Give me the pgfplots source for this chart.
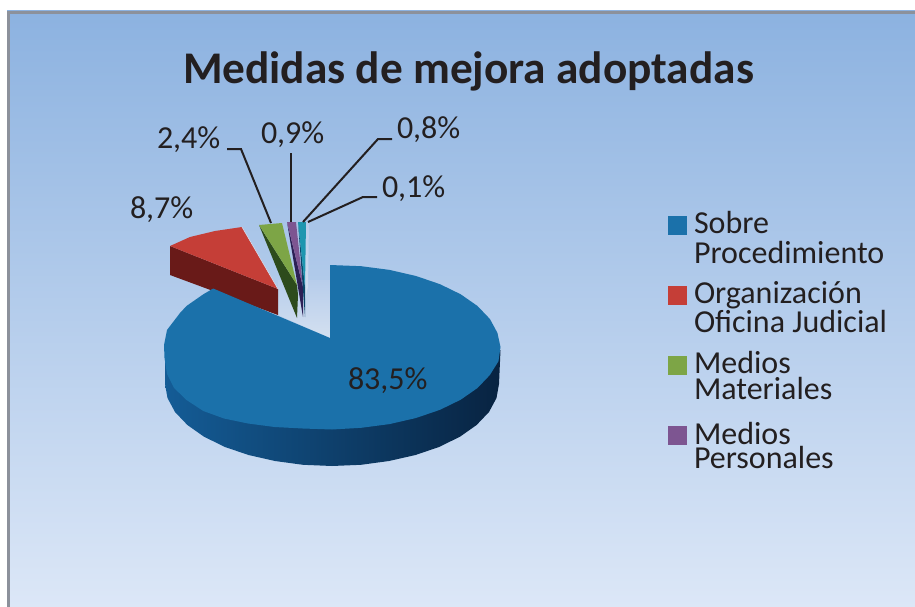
\documentclass[border=0pt]{standalone}
\usepackage{pgfplots}
\pgfplotsset{compat=1.18}
\usepackage{fontspec}
\setmainfont{Carlito}
\definecolor{txt}{RGB}{35,31,32}
\definecolor{bluetop}{RGB}{27,113,170}
\definecolor{blueL}{RGB}{20,92,150}
\definecolor{blueM}{RGB}{13,58,105}
\definecolor{blueR}{RGB}{8,35,65}
\definecolor{redtop}{RGB}{197,62,55}
\definecolor{redside}{RGB}{105,26,24}
\definecolor{greentop}{RGB}{125,165,70}
\definecolor{greenside}{RGB}{45,75,28}
\definecolor{purptop}{RGB}{125,85,145}
\definecolor{purpside}{RGB}{45,32,85}
\definecolor{tealtop}{RGB}{30,150,175}
\definecolor{tealside}{RGB}{10,70,105}
\definecolor{pale}{RGB}{212,224,240}
\definecolor{palebg}{RGB}{183,205,235}
\definecolor{bgtop}{RGB}{140,178,224}
\definecolor{bgbot}{RGB}{220,231,247}
\definecolor{frame}{RGB}{140,145,155}
\tikzset{lbl/.style={inner sep=0pt,outer sep=0pt,anchor=base west,text=txt,font=\fontsize{32}{33}\selectfont},
 leg/.style={inner sep=0pt,outer sep=0pt,anchor=base west,text=txt,font=\fontsize{32}{33}\selectfont}}
\begin{document}
\begin{tikzpicture}
\begin{axis}[
  width=915pt,height=607pt,scale only axis,
  xmin=0,xmax=915,ymin=0,ymax=607,y dir=reverse,
  hide axis,clip=true,
]
% page + panel
\addplot[draw=none,fill=white,forget plot] coordinates {(0,0)(915,0)(915,607)(0,607)} --cycle;
\addplot[draw=none,top color=bgtop,bottom color=bgbot,forget plot] coordinates {(7,11)(915,11)(915,607)(7,607)} --cycle;
\addplot[draw=frame,line width=3pt,forget plot] coordinates {(8.5,607)(8.5,12.5)(915,12.5)};
% pale wedge
\addplot[draw=none,top color=palebg,bottom color=pale,forget plot] coordinates {(278,280)(278,315)(330,338)(330,280)} --cycle;
\addplot[draw=none,top color=palebg,bottom color=pale,forget plot] coordinates {(305,222)(309,222)(308,287)(305,300)} --cycle;
% red slice
\addplot[draw=none,fill=redside,forget plot] coordinates {(170,246)(278,289)(278,315)(170,275)} --cycle;
\addplot[draw=none,fill=redtop,forget plot] coordinates {(170,246)(190,237)(215,231)(242,227)(278,289)} --cycle;
\addplot[draw=pale,line width=0.6pt,forget plot] coordinates {(242,227)(278,289)};
% green slice
\addplot[draw=none,fill=greenside,forget plot] coordinates {(259,225)(297,285)(298,295)(297,318)} --cycle;
\addplot[draw=none,fill=greentop,forget plot] coordinates {(259,225)(282,223)(297,285)} --cycle;
% purple slice
\addplot[draw=none,fill=purpside,forget plot] coordinates {(287,222)(303,287)(303,317)} --cycle;
\addplot[draw=none,fill=purptop,forget plot] coordinates {(287,222)(296,222)(303,287)} --cycle;
% teal slice
\addplot[draw=none,fill=tealside,forget plot] coordinates {(298,222)(305,287)(305,317)} --cycle;
\addplot[draw=none,fill=tealtop,forget plot] coordinates {(298,222)(306,222)(305,287)} --cycle;
% blue side
\addplot[draw=none,left color=blueL,middle color=blueM,right color=blueR,forget plot] coordinates {
(165,350)(165,384)(167.5,398)(175,412)(187.4,425)(204,436.7)(225,447)(248.5,455)(275,461)(303,464.8)(332,466)(361,464.8)(389,461)(415.5,455)(439,447)(460,436.7)(476.6,425)(489,412)(496.5,398)(499,384)(500.5,350)(400,350)(250,360)} --cycle;
% blue top
\addplot[draw=none,fill=bluetop,forget plot] coordinates {
(330,338)(330,265)(361.2,266.2)(389.5,269.9)(416,276)(440,284.2)(460.7,294.3)(477.5,306)(489.9,319)(497.4,332.8)(500.5,347)(498.5,361.2)(489.9,375)(477.5,388)(460.7,399.7)(440,409.8)(416,418)(389.5,424.1)(361.2,427.8)(332,429.5)(302.8,428.5)(274.5,427)(248,423.5)(224,418.5)(203.3,411)(186.5,400)(174.1,388)(167,374)(164.5,358)(164,345)(167,330)(180,313)(186.5,306)(203.3,294.3)(213.2,288.5)} --cycle;
% leader lines
\addplot[draw=txt,line width=2pt,forget plot] coordinates {(227,149)(241,149)(271,223)};
\addplot[draw=txt,line width=2pt,forget plot] coordinates {(291,153)(291,222)};
\addplot[draw=txt,line width=2pt,forget plot] coordinates {(392,139)(378,139)(303,222)};
\addplot[draw=txt,line width=2pt,forget plot] coordinates {(377,197)(363,197)(308,222)};
% legend squares
\addplot[only marks,mark=square*,mark size=9pt,mark options={line width=0pt,draw=bluetop,fill=bluetop},forget plot] coordinates {(677,225)};
\addplot[only marks,mark=square*,mark size=9pt,mark options={line width=0pt,draw=redtop,fill=redtop},forget plot] coordinates {(677,295)};
\addplot[only marks,mark=square*,mark size=9pt,mark options={line width=0pt,draw=greentop,fill=greentop},forget plot] coordinates {(677,365)};
\addplot[only marks,mark=square*,mark size=9pt,mark options={line width=0pt,draw=purptop,fill=purptop},forget plot] coordinates {(677,435)};
% title
\node[anchor=base,inner sep=0pt,font=\fontsize{45.3}{48}\selectfont\bfseries,text=txt] at (axis cs:468.5,84) {Medidas de mejora adoptadas};
% data labels
\node[lbl] at (axis cs:157,149) {2,4\%};
\node[lbl] at (axis cs:261,143) {0,9\%};
\node[lbl] at (axis cs:397,139) {0,8\%};
\node[lbl] at (axis cs:382,197) {0,1\%};
\node[lbl] at (axis cs:130,218) {8,7\%};
\node[lbl] at (axis cs:348,389) {83,5\%};
% legend text
\node[leg] at (axis cs:694,233) {Sobre};
\node[leg] at (axis cs:694,263) {Procedimiento};
\node[leg] at (axis cs:694,303) {Organización};
\node[leg] at (axis cs:694,332) {Oficina Judicial};
\node[leg] at (axis cs:694,373) {Medios};
\node[leg] at (axis cs:694,399) {Materiales};
\node[leg] at (axis cs:694,444) {Medios};
\node[leg] at (axis cs:694,468) {Personales};
\end{axis}
\end{tikzpicture}
\end{document}
